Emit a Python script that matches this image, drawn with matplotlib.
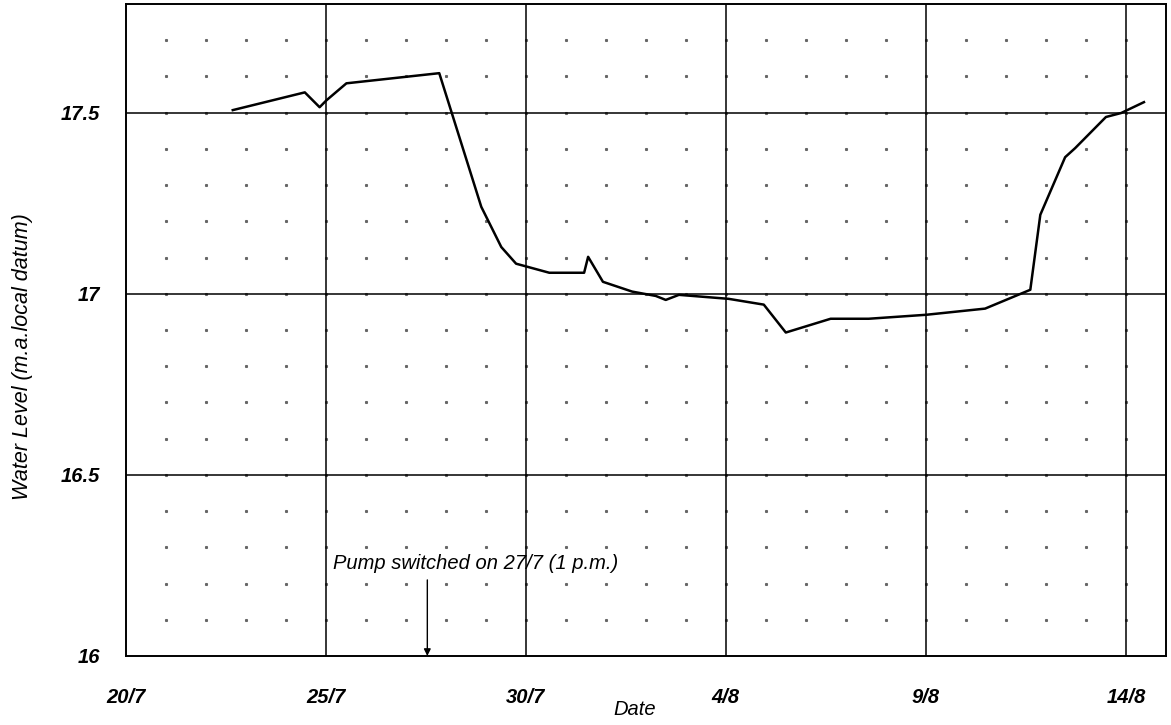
import matplotlib
matplotlib.use("Agg")
import matplotlib.pyplot as plt
import numpy as np

# Days elapsed since 20 July (0 = 20/7 00:00)
days = [2.68, 4.48, 4.85, 5.02, 5.52, 7.84, 8.89, 9.39, 9.76, 10.59,
        11.46, 11.56, 11.93, 12.66, 13.25, 13.50, 13.83, 15.07, 15.95,
        16.50, 17.62, 18.57, 20.01, 21.48, 22.61, 22.86, 23.48, 23.73,
        24.50, 24.88, 25.45]
level = [17.507, 17.556, 17.515, 17.534, 17.581, 17.609, 17.240, 17.129,
         17.083, 17.058, 17.058, 17.102, 17.033, 17.006, 16.994, 16.983,
         16.997, 16.986, 16.970, 16.893, 16.931, 16.931, 16.942, 16.959,
         17.011, 17.218, 17.377, 17.402, 17.488, 17.499, 17.529]

date_ticks = [0, 5, 10, 15, 20, 25]
date_labels = ["20/7", "25/7", "30/7", "4/8", "9/8", "14/8"]
level_ticks = [16, 16.5, 17, 17.5]
level_labels = ["16", "16.5", "17", "17.5"]

pump_on = 7 + 13 / 24  # 27/7, 1 p.m.

plt.rcParams["font.family"] = ["Liberation Sans", "DejaVu Sans"]

fig = plt.figure(figsize=(11.71, 7.25), dpi=100)
ax = fig.add_axes([0.1072, 0.0952, 0.8885, 0.8993])
ax.set_xlim(0, 26)
ax.set_ylim(16, 17.80)

# sparse dotted minor grid: one dot per day and per 0.1 m
gx, gy = np.meshgrid(np.arange(1, 26), np.arange(16.1, 17.8, 0.1))
ax.plot(gx.ravel(), gy.ravel(), linestyle="none", marker="s",
        markersize=1.2, color="#666666", zorder=1)

# major grid
for x in date_ticks[1:]:
    ax.axvline(x, color="black", lw=1.1, zorder=2)
for y in level_ticks[1:]:
    ax.axhline(y, color="black", lw=1.1, zorder=2)

ax.plot(days, level, color="black", lw=1.8, zorder=3)

ax.set_xticks(date_ticks)
ax.set_xticklabels(date_labels, fontsize=14.5, fontweight="bold", style="italic")
ax.set_yticks(level_ticks)
ax.set_yticklabels(level_labels, fontsize=14.5, fontweight="bold", style="italic")
ax.tick_params(axis="both", length=0)
ax.tick_params(axis="x", pad=23)
ax.tick_params(axis="y", pad=18)

for s in ax.spines.values():
    s.set_linewidth(1.4)
    s.set_color("black")

ax.set_xlabel("Date", fontsize=14.5, style="italic")
ax.xaxis.set_label_coords(0.489, -0.068)
ax.set_ylabel("Water Level (m.a.local datum)", fontsize=15.5, style="italic")
ax.yaxis.set_label_coords(-0.089, 0.459)

ax.annotate("", xy=(pump_on, 16.0), xytext=(pump_on, 16.21),
            arrowprops=dict(arrowstyle="-|>", color="black", lw=1.0,
                            mutation_scale=10, shrinkA=0, shrinkB=0),
            zorder=4)
ax.text(pump_on - 2.35, 16.255, "Pump switched on 27/7 (1 p.m.)",
        fontsize=14.5, style="italic", ha="left", va="center", zorder=4)

fig.savefig("out.png", dpi=100)
